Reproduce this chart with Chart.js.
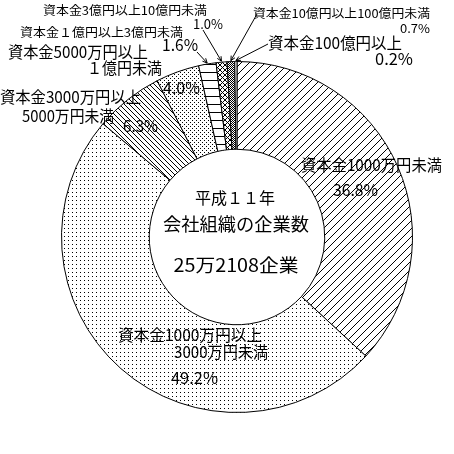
<!DOCTYPE html>
<html>
<head>
<meta charset="utf-8">
<script src="https://cdn.jsdelivr.net/npm/chart.js@4"></script>
<style>
html,body{margin:0;padding:0;background:#fff;}
#wrap{width:454px;height:454px;}
</style>
</head>
<body>
<div id="wrap"><canvas id="c" width="454" height="454"></canvas></div>
<script>
const categories = [
  "資本金1000万円未満",
  "資本金1000万円以上3000万円未満",
  "資本金3000万円以上5000万円未満",
  "資本金5000万円以上1億円未満",
  "資本金１億円以上3億円未満",
  "資本金3億円以上10億円未満",
  "資本金10億円以上100億円未満",
  "資本金100億円以上"
];
const values = [36.8, 49.2, 6.3, 4.0, 1.6, 1.0, 0.7, 0.2];
const valueLabels = ["36.8%", "49.2%", "6.3%", "4.0%", "1.6%", "1.0%", "0.7%", "0.2%"];
const centerLines = ["平成１１年", "会社組織の企業数", "25万2108企業"];

const canvas = document.getElementById('c');
const ctx = canvas.getContext('2d');

function makePattern(w, h, draw) {
  const c = document.createElement('canvas');
  c.width = w; c.height = h;
  const x = c.getContext('2d');
  x.fillStyle = '#fff'; x.fillRect(0, 0, w, h);
  x.fillStyle = '#000';
  draw(x, w, h);
  return ctx.createPattern(c, 'repeat');
}
const patSlash = makePattern(8, 8, (x, s) => { for (let i = 0; i < s; i++) x.fillRect(i, s - 1 - i, 1, 1); });
const patDots = makePattern(4, 4, (x) => { x.fillRect(0, 0, 1, 1); });
const patBack = makePattern(5, 5, (x, s) => { for (let i = 0; i < s; i++) x.fillRect(i, i, 1, 1); });
const patSparse = makePattern(4, 4, (x) => { x.fillRect(0, 0, 1, 1); x.fillRect(2, 2, 1, 1); });
const patHoriz = makePattern(8, 8, (x, s) => { x.fillRect(0, 0, s, 1); });
const patCross = makePattern(5, 5, (x, s) => { for (let i = 0; i < s; i++) { x.fillRect(i, i, 1, 1); x.fillRect(i, s - 1 - i, 1, 1); } });
const patDense = makePattern(2, 2, (x) => { x.fillRect(0, 0, 1, 1); x.fillRect(1, 1, 1, 1); });
const fills = [patSlash, patDots, patBack, patSparse, patHoriz, patCross, patDense, '#ffffff'];

const FONT = '"Noto Sans CJK JP", "Noto Sans", sans-serif';

// text labels: [text, left/center x, middle y, width, size, align]
const labelSpecs = [
  ["資本金3億円以上10億円未満", 43, 10, 164, 12, 'left'],
  [valueLabels[5], 193, 24, 30, 13, 'left'],
  ["資本金１億円以上3億円未満", 20, 32, 163, 12, 'left'],
  [valueLabels[4], 162, 45, 36, 16, 'left'],
  ["資本金5000万円以上", 8, 52, 140, 16, 'left'],
  ["１億円未満", 87, 68, 75, 16, 'left'],
  ["資本金3000万円以上", 0, 97, 141, 16, 'left'],
  ["5000万円未満", 22, 116, 92, 16, 'left'],
  [valueLabels[2], 123, 126, 35, 16, 'left'],
  [valueLabels[3], 163, 88, 37, 16, 'left'],
  ["資本金10億円以上100億円未満", 253, 13, 177, 12, 'left'],
  [valueLabels[6], 400, 28, 30, 12, 'left'],
  ["資本金100億円以上", 268, 43, 134, 16, 'left'],
  [valueLabels[7], 375, 59, 38, 16, 'left'],
  ["資本金1000万円未満", 301, 165, 141, 16, 'left'],
  [valueLabels[0], 333, 190, 45, 16, 'left'],
  ["資本金1000万円以上", 118, 335, 144, 16, 'left'],
  ["3000万円未満", 174, 352, 94, 16, 'left'],
  [valueLabels[1], 171, 378, 47, 16, 'left'],
  [centerLines[0], 235, 198, 80, 16, 'center'],
  [centerLines[1], 236, 224, 146, 18, 'center'],
  [centerLines[2], 236, 265, 125, 18, 'center']
];
// leader lines: [slice index, start x, start y]
const leaders = [
  [4, 197, 52],
  [5, 203, 30],
  [6, 257, 14],
  [7, 268, 44]
];

function drawFit(c, text, x, y, w, size, align) {
  c.save();
  c.font = size + 'px ' + FONT;
  c.textBaseline = 'middle';
  c.textAlign = 'left';
  const mw = c.measureText(text).width;
  const sx = w / mw;
  const left = align === 'center' ? x - w / 2 : x;
  c.translate(left, y);
  c.scale(sx, 1);
  c.fillStyle = '#000';
  c.fillText(text, 0, 0);
  c.restore();
}

const labelPlugin = {
  id: 'labels',
  afterDraw(chart) {
    const c = chart.ctx;
    const meta = chart.getDatasetMeta(0);
    c.save();
    c.strokeStyle = '#000';
    c.lineWidth = 1;
    leaders.forEach(([i, sx, sy]) => {
      const arc = meta.data[i];
      const mid = (arc.startAngle + arc.endAngle) / 2;
      const r = arc.outerRadius + 1;
      const ex = arc.x + Math.cos(mid) * r;
      const ey = arc.y + Math.sin(mid) * r;
      c.beginPath();
      c.moveTo(sx, sy);
      c.lineTo(ex, ey);
      c.stroke();
      const ang = Math.atan2(ey - sy, ex - sx);
      const ah = 5;
      c.beginPath();
      c.moveTo(ex + Math.cos(ang + Math.PI - 0.45) * ah, ey + Math.sin(ang + Math.PI - 0.45) * ah);
      c.lineTo(ex, ey);
      c.lineTo(ex + Math.cos(ang + Math.PI + 0.45) * ah, ey + Math.sin(ang + Math.PI + 0.45) * ah);
      c.stroke();
    });
    c.restore();
    labelSpecs.forEach(s => drawFit(c, s[0], s[1], s[2], s[3], s[4], s[5]));
  }
};

new Chart(canvas, {
  type: 'doughnut',
  data: {
    labels: categories,
    datasets: [{
      data: values,
      backgroundColor: fills,
      borderColor: '#000',
      borderWidth: 1,
      hoverOffset: 0
    }]
  },
  options: {
    responsive: false,
    devicePixelRatio: 1,
    animation: false,
    cutout: '50%',
    layout: { padding: { left: 61, right: 41, top: 61, bottom: 41 } },
    plugins: { legend: { display: false }, tooltip: { enabled: false } },
    events: []
  },
  plugins: [labelPlugin]
});
</script>
</body>
</html>
